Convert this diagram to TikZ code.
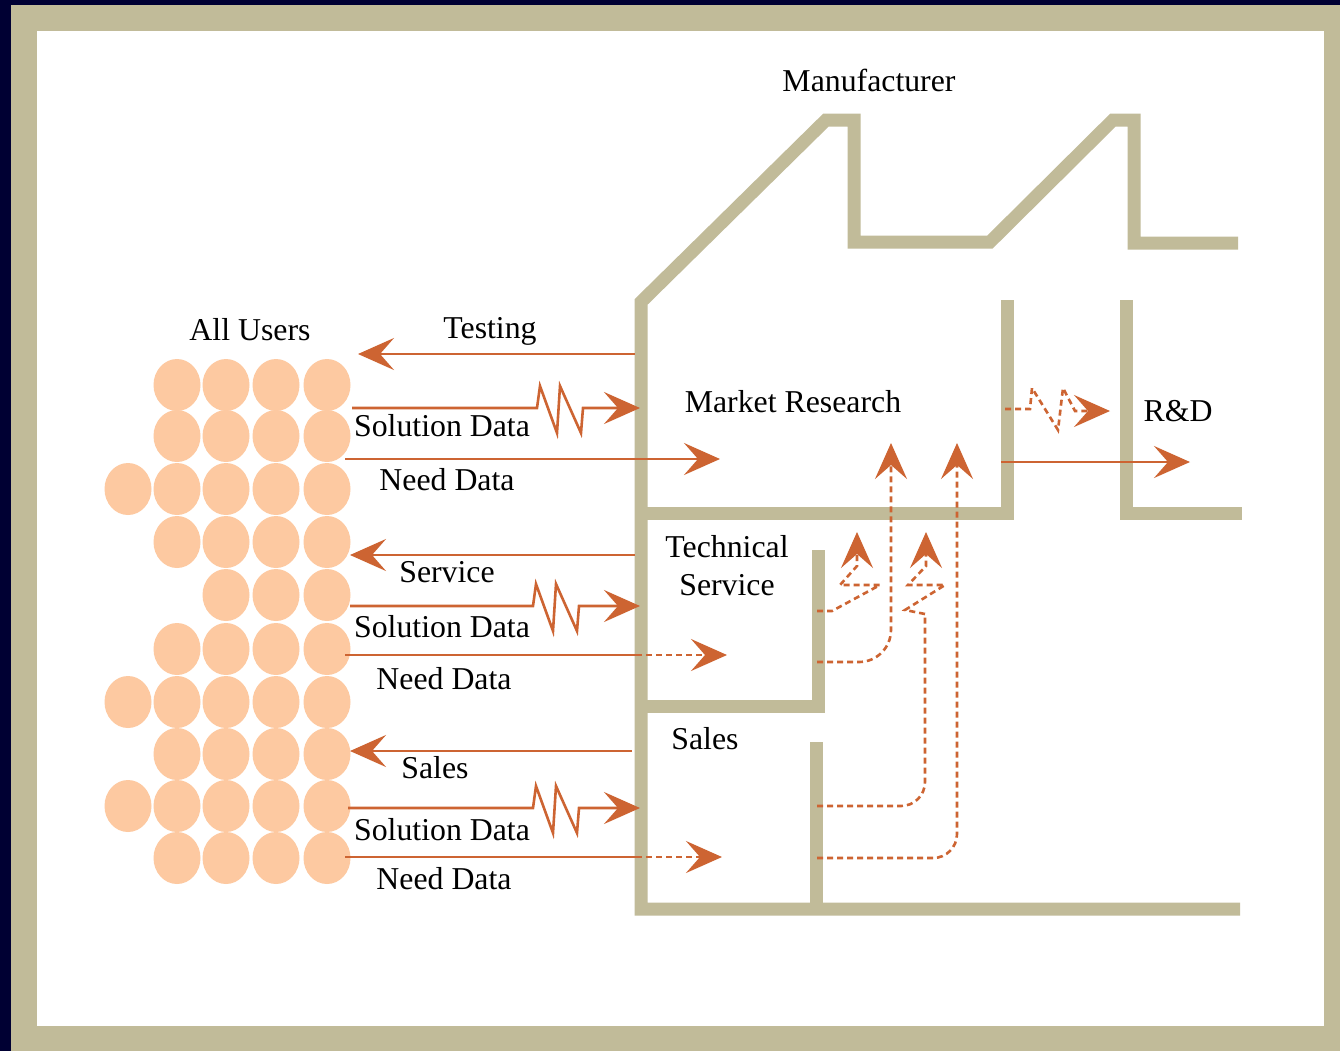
\documentclass[tikz,border=0pt]{standalone}
\usepackage{fontspec}
\setmainfont{Liberation Serif}
\usetikzlibrary{arrows.meta}
\definecolor{Navy}{RGB}{0,0,51}
\definecolor{Khaki}{RGB}{193,187,153}
\definecolor{Rust}{RGB}{205,100,50}
\definecolor{Peach}{RGB}{253,201,161}

\begin{document}
\begin{tikzpicture}[x=0.5pt, y=-0.5pt,
    wall/.style={draw=Khaki, line width=6.5pt},
    flow/.style={Rust, line width=1.3pt},
    arr/.style={flow, ->},
    dflow/.style={flow, dash pattern=on 3pt off 2pt},
    lbl/.style={font=\fontsize{15.9pt}{19pt}\selectfont, inner sep=0pt},
    user/.style={fill=Peach},
    zig/.style={insert path={-- ++(3,-22) -- ++(17,47) -- ++(3,-47) -- ++(21,47) -- ++(2,-25)}},
    >={Stealth[length=18pt, width=16pt, inset=7pt]}
  ]
  % frame
  \useasboundingbox (0,0) rectangle (1340,1051);
  \fill[Navy] (0,0) rectangle (1340,1051);
  \fill[Khaki] (11,5) rectangle (1340,1051);
  \fill[white] (37,31) rectangle (1324,1026);

  % users
  \foreach \y in {385,436,489,542,649,702,754,806,858}
    \foreach \x in {177,226,276,327}
      \fill[user] (\x,\y) ellipse [x radius=11.75pt, y radius=13pt];
  \foreach \x in {226,276,327}
    \fill[user] (\x,595) ellipse [x radius=11.75pt, y radius=13pt];
  \foreach \y in {489,702,806}
    \fill[user] (128,\y) ellipse [x radius=11.75pt, y radius=13pt];

  % building
  \draw[wall] (1240,909) -- (641,909) -- (641,302) -- (826,120) -- (854,120) -- (854,242)
              -- (990,242) -- (1113,120) -- (1134,120) -- (1134,243) -- (1238,243);
  \draw[wall] (641,513) -- (1007,513) -- (1007,300);
  \draw[wall] (1126,300) -- (1126,513) -- (1242,513);
  \draw[wall] (818,550) -- (818,706) -- (641,706);
  \draw[wall] (816,742) -- (816,909);

  % labels
  \node[lbl] (users) at (250,330) {All Users};
  \node[lbl] (mfr)   at (869,80)  {Manufacturer};
  \node[lbl] (mr)    at (793,402) {Market Research};
  \node[lbl] (rd)    at (1178,411) {R\&D};
  \node[lbl, align=center] (ts) at (727,566) {Technical\\Service};
  \node[lbl] (sl)    at (705,739) {Sales};

  \node[lbl] (testing) at (490,331) {Testing};
  \node[lbl] (sol1)  at (442,426) {Solution Data};
  \node[lbl] (need1) at (447,480) {Need Data};
  \node[lbl] (serv)  at (447,572) {Service};
  \node[lbl] (sol2)  at (442,627) {Solution Data};
  \node[lbl] (need2) at (444,679) {Need Data};
  \node[lbl] (sales) at (435,768) {Sales};
  \node[lbl] (sol3)  at (442,830) {Solution Data};
  \node[lbl] (need3) at (444,879) {Need Data};

  % end points
  \coordinate (test-a) at (635,354);  \coordinate (test-b) at (358,354);
  \coordinate (sol1-a) at (352,408);  \coordinate (sol1-b) at (640,408);
  \coordinate (need1-a) at (345,459); \coordinate (need1-b) at (720,459);
  \coordinate (serv-a) at (635,555);  \coordinate (serv-b) at (350,555);
  \coordinate (sol2-a) at (350,606);  \coordinate (sol2-b) at (640,606);
  \coordinate (need2-a) at (345,655); \coordinate (need2-m) at (636,655);
  \coordinate (need2-b) at (727,655);
  \coordinate (sales-a) at (632,751); \coordinate (sales-b) at (350,751);
  \coordinate (sol3-a) at (348,808);  \coordinate (sol3-b) at (640,808);
  \coordinate (need3-a) at (345,857); \coordinate (need3-m) at (636,857);
  \coordinate (need3-b) at (722,857);
  \coordinate (rd-a) at (1005,409);   \coordinate (rd-b) at (1110,411);
  \coordinate (mr-a) at (1001,462);   \coordinate (mr-b) at (1190,462);

  % user flows
  \draw[arr] (test-a) -- (test-b);
  \draw[arr] (sol1-a) -- (537,408) [zig] -- (sol1-b);
  \draw[arr] (need1-a) -- (need1-b);
  \draw[arr] (serv-a) -- (serv-b);
  \draw[arr] (sol2-a) -- (533,606) [zig] -- (sol2-b);
  \draw[flow] (need2-a) -- (need2-m);
  \draw[dflow, ->] (need2-m) -- (need2-b);
  \draw[arr] (sales-a) -- (sales-b);
  \draw[arr] (sol3-a) -- (533,808) [zig] -- (sol3-b);
  \draw[flow] (need3-a) -- (need3-m);
  \draw[dflow, ->] (need3-m) -- (need3-b);

  % to R&D
  \draw[dflow, ->] (rd-a) -- (1030,409) -- (1032,388) -- (1058,430)
                   -- (1063,388) -- (1075,411) -- (rd-b);
  \draw[arr] (mr-a) -- (mr-b);

  % internal flows
  \coordinate (ts-a) at (817,611);   \coordinate (ts-b) at (857,532);
  \coordinate (ts-c) at (817,662);   \coordinate (ts-d) at (891,443);
  \coordinate (sl-a) at (817,806);   \coordinate (sl-b) at (926,532);
  \coordinate (sl-c) at (817,858);   \coordinate (sl-d) at (957,443);
  \draw[dflow, ->] (ts-a) -- (832,611) -- (880,585) -- (840,585) -- (857,566) -- (ts-b);
  \draw[dflow, ->, rounded corners=16pt] (ts-c) -- (891,662) -- (ts-d);
  \draw[dflow, rounded corners=12pt] (sl-a) -- (925,806) -- (925,614);
  \draw[dflow, ->] (925,614) -- (905,610) -- (945,585) -- (908,585) -- (926,566) -- (sl-b);
  \draw[dflow, ->, rounded corners=12pt] (sl-c) -- (957,858) -- (sl-d);
\end{tikzpicture}
\end{document}
